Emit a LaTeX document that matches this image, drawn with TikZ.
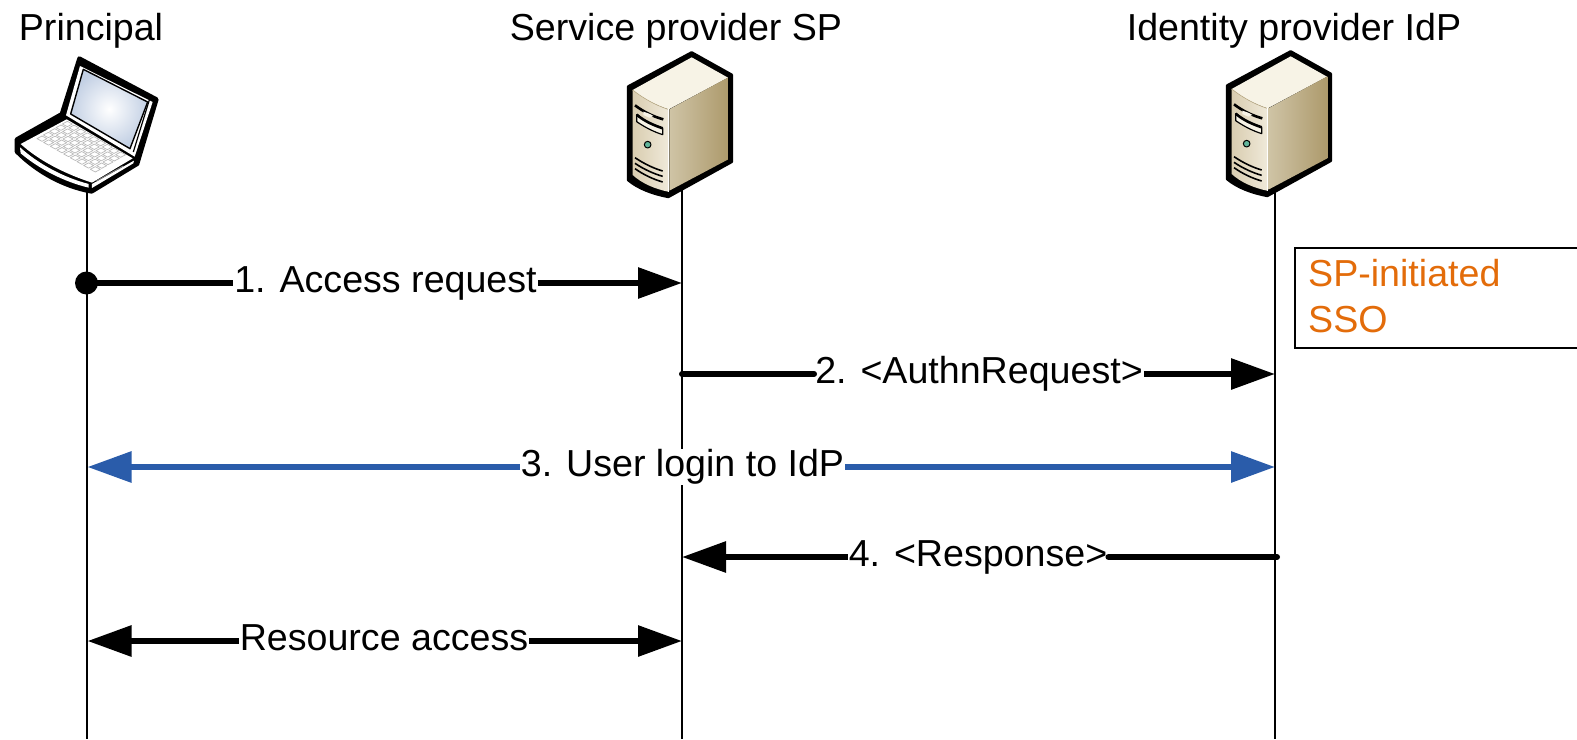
\documentclass[tikz,border=0pt]{standalone}
\usepackage{fontspec}
\setmainfont{Liberation Sans}
\usetikzlibrary{arrows.meta}
\definecolor{flowblue}{HTML}{2A5CAA}
\definecolor{noteorange}{HTML}{E36C0A}
\definecolor{srvtop}{HTML}{F7F3E6}
\definecolor{srvfrontA}{HTML}{D9CDB0}
\definecolor{srvfrontB}{HTML}{EFE9D9}
\definecolor{srvsideA}{HTML}{CFC4A6}
\definecolor{srvsideB}{HTML}{E8E1CF}
\definecolor{srvsideC}{HTML}{AD9A6C}
\definecolor{screenout}{HTML}{C3D0E4}
\definecolor{ledgreen}{HTML}{62B59B}
\tikzset{
  x=1pt,y=-1pt,
  lifeline/.style={line width=2pt},
  flow/.style={line width=6pt,line cap=round},
  flowtip/.style={-{Triangle[length=44pt,width=30pt]},line cap=butt},
  flowlabel/.style={fill=white,inner xsep=1pt,inner ysep=0pt,font=\fontsize{37.6}{45}\selectfont,text height=27pt,text depth=9pt},
  header/.style={anchor=base,inner sep=0pt,font=\fontsize{37.6}{45}\selectfont},
  notebox/.style={draw=black,line width=2.2pt,fill=white},
  note/.style={anchor=base west,inner sep=0pt,text=noteorange,font=\fontsize{37.6}{45}\selectfont}
}
\newcommand{\serverart}[2]{%
\begin{scope}[shift={(#1,#2)},x=0.3333pt,y=-0.3333pt,line join=round]
  \fill[black,draw=black,line width=3pt] (245,38) -- (365,105) -- (365,365) -- (175,470) .. controls (130,462) and (85,445) .. (55,420) -- (55,140) -- cycle;
  \fill[srvtop] (245,52) -- (354,113) -- (176,208) .. controls (135,195) and (100,175) .. (68,150) -- cycle;
  \shade[left color=srvfrontA,right color=srvfrontB] (68,150) .. controls (100,175) and (135,195) .. (174,208) -- (174,455) .. controls (135,447) and (95,430) .. (68,405) -- cycle;
  \draw[srvsideC!80!white,line width=0.6pt] (68,150) .. controls (100,175) and (135,195) .. (174,208);
  \shade[left color=srvsideA,middle color=srvsideB,right color=srvsideC] (178,208) -- (355,112) -- (355,358) -- (178,452) -- cycle;
  \draw[white,line width=1pt] (176,208) -- (176,455);
  \draw[line width=2.6pt] (75,196) .. controls (100,215) and (130,230) .. (160,238);
  \fill[srvtop] (100,215) .. controls (110,218) and (122,222) .. (130,228) -- (118,233) -- (100,225) -- cycle;
  \draw[line width=1.2pt,fill=srvtop] (80,224) .. controls (105,245) and (130,255) .. (158,265) -- (158,284) .. controls (130,275) and (105,262) .. (80,245) -- cycle;
  \draw[line width=2.6pt] (80,224) .. controls (105,245) and (130,255) .. (158,265);
  \draw[black,line width=1pt,fill=ledgreen] (113,314) circle (10);
  \draw[line width=1.6pt] (75,353) .. controls (100,370) and (130,385) .. (158,393);
  \draw[line width=1.6pt] (75,370) .. controls (100,387) and (130,401) .. (158,409);
  \draw[line width=1.6pt] (75,386) .. controls (100,404) and (130,418) .. (158,426);
\end{scope}}
\begin{document}
\begin{tikzpicture}
\useasboundingbox (0,0) rectangle (1577,739);
% note box (runs off the right edge)
\begin{scope}
  \clip (0,0) rectangle (1577,739);
  \node[notebox,anchor=north west,minimum width=300pt,minimum height=100pt,inner sep=0pt] (notebox) at (1294,247) {};
\end{scope}
\node[note] (note1) at (1308,286) {SP-initiated};
\node[note] (note2) at (1308,332) {SSO};
% headers
\node[header] (hp) at (91,40) {Principal};
\node[header] (hs) at (676,40) {Service provider SP};
\node[header] (hi) at (1294,40) {Identity provider IdP};
% lifeline ends
\coordinate (ptop) at (86.5,180); \coordinate (pbot) at (86.5,739);
\coordinate (stop) at (682,180);  \coordinate (sbot) at (682,739);
\coordinate (itop) at (1275,180); \coordinate (ibot) at (1275,739);
\draw[lifeline] (ptop) -- (pbot);
\draw[lifeline] (stop) -- (sbot);
\draw[lifeline] (itop) -- (ibot);
% server icons
\serverart{610}{40}
\serverart{1209}{39}
% laptop icon
\begin{scope}[shift={(0,40)},x=0.3333pt,y=-0.3333pt,line join=round]
  \fill[black,draw=black,line width=4pt] (238,55) -- (470,178) -- (412,372) -- (275,455) .. controls (190,440) and (110,395) .. (50,335) -- (50,298) -- (185,222) -- cycle;
  \fill[white] (200,238) -- (398,355) -- (276,428) .. controls (190,400) and (115,360) .. (62,312) -- cycle;
  \fill[white] (60,322) .. controls (115,372) and (190,412) .. (266,432) -- (266,443) .. controls (190,425) and (115,385) .. (62,340) -- cycle;
  \fill[white] (276,432) -- (402,362) -- (400,370) -- (276,444) -- cycle;
  \draw[gray,line width=1pt] (288,424) -- (370,378);
  \fill[white] (240,78) -- (458,186) -- (404,350) -- (198,226) -- cycle;
  \shade[inner color=white,outer color=screenout,draw=black,line width=1.4pt] (250,88) -- (443,186) -- (390,326) -- (212,222) -- cycle;
  \draw[black,line width=1.2pt] (448,180) -- (400,336);
  \foreach \r in {0,...,4}{\foreach \c in {0,...,8}{
    \pgfmathsetmacro{\ax}{187+20*\c-19*\r}
    \pgfmathsetmacro{\ay}{252+11.5*\c+11*\r}
    \draw[gray!55,line width=0.7pt] (\ax,\ay) -- ++(15,-8) -- ++(15,8) -- ++(-15,8) -- cycle;
  }}
\end{scope}
% flow anchors
\coordinate (p1) at (86.5,283); \coordinate (s1) at (682,283);
\coordinate (s2) at (682,374);  \coordinate (i2) at (1275,374);
\coordinate (p3) at (87.5,467); \coordinate (i3) at (1275,467);
\coordinate (s4) at (682,557);  \coordinate (i4) at (1277,557);
\coordinate (p5) at (87.5,641); \coordinate (s5) at (682,641);
% labels
\node[flowlabel] (l1) at (385.5,283) {1. Access request};
\node[flowlabel] (l2) at (979,374) {2. <AuthnRequest>};
\node[flowlabel] (l3) at (682.5,467) {3. User login to IdP};
\node[flowlabel] (l4) at (978,557) {4. <Response>};
\node[flowlabel] (l5) at (384,641) {Resource access};
% connectors
\fill (p1) circle (11.5);
\draw[flow,line cap=butt] (p1) -- (l1);
\draw[flow,flowtip] (l1) -- (s1);
\draw[flow,line cap=round] (s2) -- (l2);
\draw[flow,flowtip] (l2) -- (i2);
\draw[flow,flowtip,flowblue] (l3) -- (p3);
\draw[flow,flowtip,flowblue] (l3) -- (i3);
\draw[flow,flowtip] (l4) -- (s4);
\draw[flow,line cap=round] (i4) -- (l4);
\draw[flow,flowtip] (l5) -- (p5);
\draw[flow,flowtip] (l5) -- (s5);
\end{tikzpicture}
\end{document}
